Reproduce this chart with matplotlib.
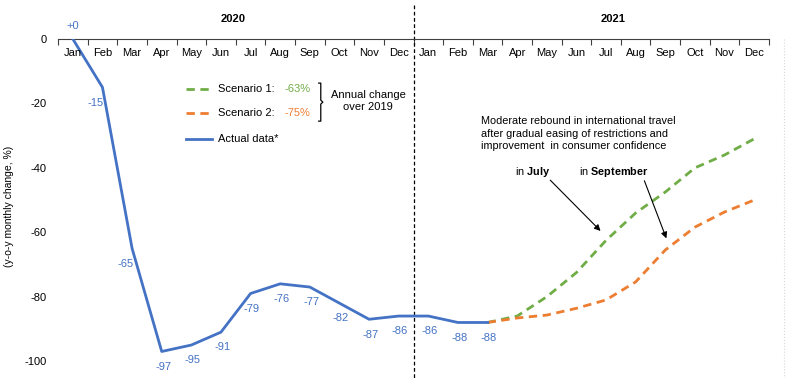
import matplotlib.pyplot as plt

plt.rcParams['font.family'] = ['Liberation Sans', 'DejaVu Sans']
plt.rcParams['mathtext.fontset'] = 'custom'
plt.rcParams['mathtext.rm'] = 'Liberation Sans'
plt.rcParams['mathtext.bf'] = 'Liberation Sans:bold'
plt.rcParams['axes.unicode_minus'] = False

months = ["Jan", "Feb", "Mar", "Apr", "May", "Jun",
          "Jul", "Aug", "Sep", "Oct", "Nov", "Dec"]
actual = [0, -15, -65, -97, -95, -91, -79, -76, -77, -82, -87, -86,
          -86, -88, -88]
actual_labels = ["+0", "-15", "-65", "-97", "-95", "-91", "-79", "-76",
                 "-77", "-82", "-87", "-86", "-86", "-88", "-88"]
# scenarios start from Mar 2021 (index 14)
scen1 = [-88, -86, -80, -72.5, -62.5, -54, -47.5, -40, -36, -31]
scen2 = [-88, -86.6, -85.7, -83.6, -81, -75.4, -65.5, -58.4, -53.7, -50]

BLUE = "#4472C4"
GREEN = "#70AD47"
ORANGE = "#ED7D31"

fig = plt.figure(figsize=(8.07, 3.86), dpi=100)
ax = fig.add_axes([0.0719, 0.031, 0.881, 0.868])

x_act = list(range(len(actual)))
x_sc = list(range(14, 14 + len(scen1)))

ax.plot(x_sc, scen1, color=GREEN, lw=2, ls=(0, (3, 2)), zorder=2)
ax.plot(x_sc, scen2, color=ORANGE, lw=2, ls=(0, (3, 2)), zorder=2)
ax.plot(x_act, actual, color=BLUE, lw=2, zorder=3)

# data labels
for i, (v, lab) in enumerate(zip(actual, actual_labels)):
    if i == 0:
        ax.annotate(lab, (i, v), xytext=(0, 9), textcoords="offset points",
                    ha="center", va="center", color=BLUE, fontsize=8,
                    annotation_clip=False)
    else:
        dx = -5 if i in (1, 2) else 1
        ax.annotate(lab, (i, v), xytext=(dx, -11), textcoords="offset points",
                    ha="center", va="center", color=BLUE, fontsize=8)

ax.set_xlim(-0.5, 23.5)
ax.set_ylim(-104, 0)

# x axis line at top (y = 0) with boundary ticks
for s in ["left", "right", "bottom"]:
    ax.spines[s].set_visible(False)
ax.spines["top"].set_color("#404040")
ax.xaxis.tick_top()
ax.set_xticks([i - 0.5 for i in range(25)])
ax.set_xticklabels([])
ax.tick_params(axis="x", direction="in", length=4, color="#404040")

for i, m in enumerate(months * 2):
    ax.text(i, -4.4, m, ha="center", va="center", fontsize=8)

ax.text(5.42, 6.2, "2020", ha="center", va="center", fontsize=8,
        fontweight="bold", clip_on=False)
ax.text(18.25, 6.2, "2021", ha="center", va="center", fontsize=8,
        fontweight="bold", clip_on=False)

ax.set_yticks([0, -20, -40, -60, -80, -100])
ax.tick_params(axis="y", length=0, pad=8, labelsize=8)
ax.set_ylabel("(y-o-y monthly change, %)", fontsize=7.5, labelpad=8)

# year separator
ax.plot([11.5, 11.5], [10.6, -105.3], color="black", lw=0.9,
        ls=(0, (3, 2)), clip_on=False)
ax.plot([24.0, 24.0], [0, -105], color="#d8d8d8", lw=0.8, ls=":",
        clip_on=False)

# manual legend
ax.plot([3.82, 4.70], [-15.5, -15.5], color=GREEN, lw=2, ls=(0, (3, 2)))
ax.plot([3.82, 4.70], [-23, -23], color=ORANGE, lw=2, ls=(0, (3, 2)))
ax.plot([3.82, 4.70], [-31, -31], color=BLUE, lw=2)
ax.text(4.9, -15.5, "Scenario 1:", va="center", fontsize=8)
ax.text(4.9, -23, "Scenario 2:", va="center", fontsize=8)
ax.text(4.9, -31, "Actual data*", va="center", fontsize=8)
ax.text(7.15, -15.5, "-63%", va="center", fontsize=8, color=GREEN)
ax.text(7.15, -23, "-75%", va="center", fontsize=8, color=ORANGE)

bx = 8.3
ax.plot([bx, bx + 0.07, bx + 0.07, bx + 0.14, bx + 0.07, bx + 0.07, bx],
        [-13.7, -13.7, -19.0, -19.6, -20.2, -25.5, -25.5],
        color="black", lw=0.9)
ax.text(9.97, -19.3, "Annual change\nover 2019", ha="center", va="center",
        fontsize=8, linespacing=1.2)

# annotation
ax.text(13.79, -24.0, "Moderate rebound in international travel\n"
        "after gradual easing of restrictions and\n"
        "improvement  in consumer confidence",
        ha="left", va="top", fontsize=7.8, linespacing=1.3)
ax.text(14.94, -41.3, r"in $\bf{July}$", va="center", fontsize=7.8)
ax.text(17.07, -41.3, r"in $\bf{September}$", va="center", fontsize=7.8)
ax.annotate("", xy=(17.88, -60.2), xytext=(16.05, -43.2),
            arrowprops=dict(arrowstyle="-|>", color="black", lw=0.8,
                            mutation_scale=9))
ax.annotate("", xy=(20.07, -62.7), xytext=(19.26, -43.2),
            arrowprops=dict(arrowstyle="-|>", color="black", lw=0.8,
                            mutation_scale=9))

fig.savefig("out.png", dpi=100)
